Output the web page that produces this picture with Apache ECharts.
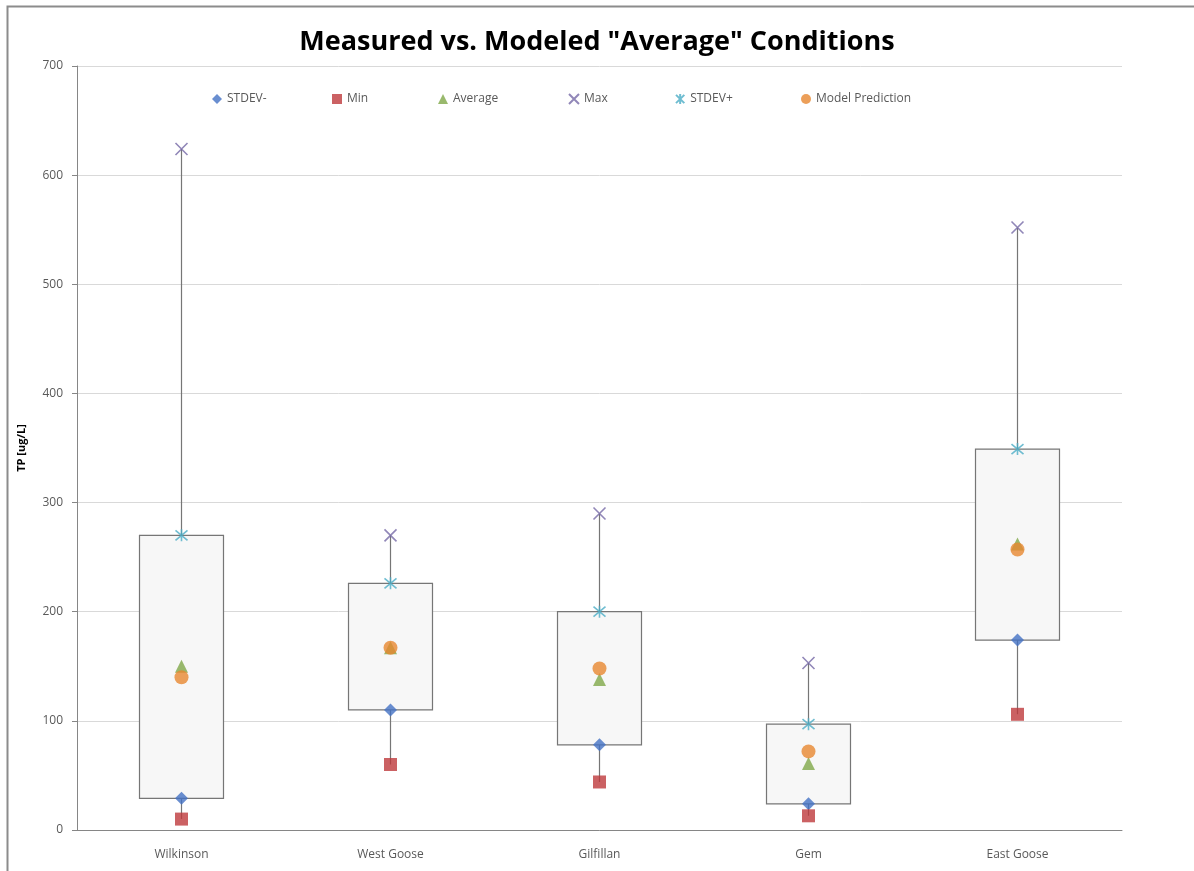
<!DOCTYPE html>
<html>
<head>
<meta charset="utf-8">
<script src="https://cdn.jsdelivr.net/npm/echarts@6/dist/echarts.min.js"></script>
<style>html,body{margin:0;padding:0;background:#fff;}#c{width:1194px;height:871px;}</style>
</head>
<body>
<div id="c"></div>
<script>
const categories = ['Wilkinson', 'West Goose', 'Gilfillan', 'Gem', 'East Goose'];
const stdevMinus = [29, 110, 78, 24, 174];
const minVals = [10, 60, 44, 13, 106];
const averageVals = [150, 167, 138, 61, 262];
const maxVals = [624, 270, 290, 153, 552];
const stdevPlus = [270, 226, 200, 97, 349];
const modelPrediction = [140, 167, 148, 72, 257];
const yTicks = [0, 100, 200, 300, 400, 500, 600, 700];

const chart = echarts.init(document.getElementById('c'));
const font = 'Open Sans';
const labelColor = '#595959';

const boxData = categories.map((c, i) => [stdevMinus[i], stdevPlus[i], minVals[i], maxVals[i]]);

function scatter(name, data, symbol, size, color, stroke) {
  return {
    name: name, type: 'scatter', data: data, symbol: symbol, symbolSize: size, z: 5,
    itemStyle: stroke ? { color: 'transparent', borderColor: color, borderWidth: 1.6 } : { color: color }
  };
}
const xPath = 'path://M0,0L10,10M10,0L0,10';
const starPath = 'path://M0,0L10,10M10,0L0,10M5,-1L5,11';

const legendPos = [
  { name: 'STDEV-', left: 207 },
  { name: 'Min', left: 327 },
  { name: 'Average', left: 433 },
  { name: 'Max', left: 563 },
  { name: 'STDEV+', left: 670 },
  { name: 'Model Prediction', left: 796 }
];

chart.setOption({
  animation: false,
  backgroundColor: '#fff',
  title: {
    text: 'Measured vs. Modeled "Average" Conditions',
    left: 'center', top: 24,
    textStyle: { fontFamily: font, fontWeight: 'bold', fontSize: 27, color: '#000' }
  },
  legend: legendPos.map(l => ({
    data: [l.name], left: l.left, top: 88, itemWidth: 10, itemHeight: 10, itemGap: 4,
    textStyle: { fontFamily: font, fontSize: 12, color: labelColor }
  })),
  grid: { left: 77, right: 72, top: 66, bottom: 41 },
  xAxis: {
    type: 'category', data: categories,
    axisLine: { lineStyle: { color: '#868686' } },
    axisTick: { lineStyle: { color: '#868686' }, length: 5 },
    axisLabel: { fontFamily: font, fontSize: 12, color: labelColor, margin: 19 }
  },
  yAxis: {
    type: 'value', min: 0, max: 700, interval: 100,
    name: 'TP [ug/L]', nameLocation: 'middle', nameGap: 50, nameRotate: 90,
    nameTextStyle: { fontFamily: font, fontSize: 11, fontWeight: 'bold', color: '#000' },
    axisLine: { show: true, lineStyle: { color: '#868686' } },
    axisTick: { show: true, lineStyle: { color: '#868686' }, length: 5 },
    axisLabel: { fontFamily: font, fontSize: 12, color: labelColor, margin: 14,
      formatter: v => yTicks.includes(v) ? String(v) : '' },
    splitLine: { lineStyle: { color: '#d9d9d9' } }
  },
  graphic: [
    { type: 'polyline', shape: { points: [[7.5, 871], [7.5, 6.5], [1194, 6.5]] },
      style: { stroke: '#8c8c8c', lineWidth: 2, fill: null }, z: 100 }
  ],
  series: [
    {
      name: 'box', type: 'candlestick', data: boxData, barWidth: 85, z: 2,
      itemStyle: { color: '#f7f7f7', color0: '#f7f7f7', borderColor: '#767676', borderColor0: '#767676', borderWidth: 1.2 }
    },
    scatter('STDEV-', stdevMinus, 'diamond', 13, '#4472c4'),
    scatter('Min', minVals, 'rect', 13, '#be3a3c'),
    scatter('Average', averageVals, 'triangle', 13, '#80a849'),
    scatter('Max', maxVals, xPath, 12, '#7669a6', true),
    scatter('STDEV+', stdevPlus, starPath, 12, '#4bacc6', true),
    scatter('Model Prediction', modelPrediction, 'circle', 14, '#e7872f')
  ]
});
</script>
</body>
</html>
